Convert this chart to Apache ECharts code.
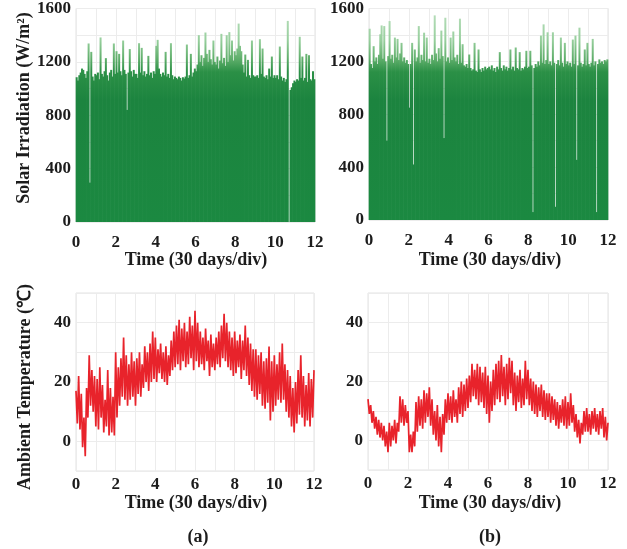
<!DOCTYPE html>
<html>
<head>
<meta charset="utf-8">
<script src="https://cdn.jsdelivr.net/npm/echarts@6/dist/echarts.min.js"></script>
<style>
  html, body { margin: 0; padding: 0; background: #fff; }
  #chart { width: 627px; height: 549px; }
</style>
</head>
<body>
<div id="chart"></div>
<script>
// x axis is in "divisions" of 30 days; one value every 2 days
const DAYS_PER_DIV = 30
const STEP_DAYS = 2

// daily peak solar irradiation (W/m2), one bar per 2 days, 15 per division
const solarA = [
  1085, 1060, 1100, 1120, 1150, 1140, 1110, 1080, 1130, 1338, 295, 1275, 1090, 1060, 1110,
  1100, 1120, 1070, 1383, 1110, 1090, 1130, 1228, 1100, 1060, 1120, 1140, 1090, 1338, 1110,
  1280, 1120, 1260, 1130, 1100, 1360, 1140, 1110, 840, 1120, 1296, 1130, 1090, 1140, 1110,
  1110, 1080, 1340, 1120, 1305, 1100, 1130, 1090, 1110, 1245, 1100, 1120, 1080, 1130, 1110,
  1320, 1365, 1150, 1110, 1090, 1120, 1100, 1275, 1090, 1110, 1080, 1340, 1100, 1070, 1090,
  1080, 1070, 1090, 1080, 1060, 1085, 1075, 1090, 1330, 1080, 1100, 1260, 1090, 1120, 1150,
  1130, 1180, 1400, 1200, 1250, 1170, 1230, 1420, 1260, 1200, 1290, 1220, 1180, 1360, 1200,
  1180, 1240, 1150, 1210, 1410, 1190, 1230, 1170, 1400, 1200, 1423, 1250, 1360, 1210, 1280,
  1250, 1300, 1487, 1320, 1280, 1180, 1120, 1255, 1090, 1215, 1100, 1080, 1360, 1100, 1090,
  1090, 1100, 1080, 1370, 1110, 1300, 1090, 1080, 1100, 1070, 1150, 1090, 1240, 1080, 1100,
  1080, 1100, 1070, 1315, 1090, 1060, 1080, 1050, 1070, 1507, 0, 990, 1010, 1040, 1060,
  1050, 1070, 1060, 1388, 1080, 1240, 1060, 1080, 1260, 1050, 1250, 1070, 1060, 1130, 1070
]

const solarB = [
  1447, 1180, 1150, 1315, 1200, 1230, 1180, 1250, 1405, 1472, 1220, 1467, 1200, 600, 1240,
  1505, 1220, 1250, 1190, 1380, 1230, 1370, 1210, 1260, 1340, 1200, 1230, 1190, 1210, 1180,
  850, 1180, 1340, 420, 1290, 1200, 1230, 1467, 1190, 1250, 1210, 1417, 1200, 1380, 1190,
  1220, 1180, 1250, 1210, 1548, 1260, 1200, 1300, 1220, 1433, 1240, 620, 1530, 1200, 1230,
  1190, 1380, 1210, 1426, 1230, 1200, 1250, 1180, 1523, 1190, 1330, 1170, 1160, 1180, 1150,
  1252, 1150, 1130, 1140, 1340, 1130, 1120, 1290, 1140, 1120, 1150, 1130, 1160, 1140, 1150,
  1160, 1140, 1170, 1130, 1150, 1120, 1160, 1140, 1270, 1150, 1130, 1170, 1140, 1160, 1130,
  1150, 1290, 1140, 1160, 1130, 1305, 1150, 1140, 1270, 1130, 1150, 1140, 1160, 1280, 1150,
  1160, 1280, 1170, 60, 1150, 1180, 1160, 1200, 1170, 1395, 1190, 1480, 1180, 1210, 1420,
  1180, 1200, 1170, 1420, 1190, 100, 1180, 1210, 1170, 1380, 1190, 1160, 1340, 1180, 1200,
  1170, 1190, 1160, 1365, 1180, 1395, 455, 1170, 1455, 1190, 1160, 1180, 1290, 1170, 1340,
  1180, 1160, 1190, 1370, 1170, 1200, 60, 1180, 1215, 1190, 1200, 1180, 1210, 1200, 1215
]

// ambient temperature (C), alternating day highs / night lows every 2 days
const tempA = [
  17, 6, 22, 4, 16, -2, 8, -5, 18, 8, 29, 12, 24, 10, 22,
  5, 21, 4, 25, 8, 19, 3, 14, 5, 24, 2, 18, 3, 15, 2,
  30, 8, 25, 12, 28, 15, 35, 14, 29, 12, 26, 14, 30, 15, 27,
  12, 28, 16, 30, 15, 26, 18, 32, 20, 30, 17, 33, 20, 37, 21,
  35, 20, 31, 23, 33, 21, 30, 20, 32, 19, 29, 22, 34, 24, 37,
  25, 39, 26, 41, 24, 38, 27, 40, 25, 37, 26, 42, 28, 39, 24,
  44, 27, 40, 25, 37, 26, 35, 24, 38, 27, 34, 22, 36, 25, 33,
  24, 35, 26, 37, 25, 39, 28, 43, 27, 40, 25, 37, 24, 35, 22,
  37, 23, 34, 25, 36, 21, 34, 24, 39, 22, 35, 19, 33, 17, 31,
  15, 31, 14, 29, 16, 30, 12, 27, 11, 28, 13, 32, 7, 27, 10,
  29, 12, 26, 14, 30, 13, 33, 14, 26, 10, 24, 8, 22, 5, 18,
  3, 20, 6, 24, 9, 29, 8, 22, 5, 19, 7, 23, 5, 21, 8,
  24
]

const tempB = [
  14, 9, 12, 6, 10, 4, 8, 2, 7, 1, 6, 0, 5, -2, 3,
  -4, 6, -2, 5, 0, 7, -1, 6, 3, 15, 6, 14, 5, 12, 6,
  10, -4, 2, -4, 3, -2, 13, 3, 15, 5, 14, 4, 17, 6, 16,
  8, 18, 5, 14, 2, 10, 0, 12, -2, 8, -4, 9, 2, 14, 6,
  16, 7, 15, 6, 17, 8, 14, 6, 18, 9, 20, 8, 19, 10, 21,
  11, 22, 13, 26, 15, 24, 14, 26, 12, 25, 13, 23, 11, 25, 9,
  22, 6, 20, 10, 24, 12, 26, 14, 27, 13, 29, 15, 25, 12, 26,
  14, 28, 16, 27, 12, 23, 10, 22, 13, 24, 11, 21, 12, 27, 14,
  24, 12, 21, 10, 20, 9, 19, 8, 18, 10, 19, 8, 17, 7, 16,
  8, 16, 6, 15, 7, 14, 5, 13, 4, 12, 6, 14, 5, 15, 4,
  13, 5, 16, 6, 12, 3, 9, 1, 7, -1, 6, 2, 10, 3, 11,
  3, 9, 2, 10, 4, 11, 3, 9, 2, 10, 4, 11, 1, 8, 0,
  6
]

const xTickLabels = ['0', '2', '4', '6', '8', '10', '12']
const solarTickLabels = ['0', '400', '800', '1200', '1600']
const tempTickLabels = ['0', '20', '40']

const FONT = 'Liberation Serif'
const TEXT = '#1c1c1c'

function barPoints (values) {
  return values.map((v, i) => [(i * STEP_DAYS + STEP_DAYS / 2) / DAYS_PER_DIV, v])
}
function linePoints (values) {
  return values.map((v, i) => [(i * STEP_DAYS) / DAYS_PER_DIV, v])
}

const grids = [
  { left: 76, top: 8, width: 239, height: 214 },
  { left: 369, top: 8, width: 239, height: 212 },
  { left: 76, top: 293, width: 238, height: 178 },
  { left: 368, top: 293, width: 240, height: 177 }
]

function xAxis (gridIndex, margin) {
  return {
    type: 'value',
    gridIndex,
    min: 0,
    max: 12,
    interval: 1,
    axisLine: { show: false },
    axisTick: { show: false },
    splitLine: { show: true, lineStyle: { color: '#ececec', width: 1 } },
    axisLabel: {
      margin,
      fontFamily: FONT,
      fontWeight: 'bold',
      fontSize: 17,
      color: TEXT,
      formatter: v => xTickLabels.includes(String(v)) ? String(v) : ''
    }
  }
}

function yAxis (gridIndex, min, max, interval, labels) {
  return {
    type: 'value',
    gridIndex,
    min,
    max,
    interval,
    axisLine: { show: false },
    axisTick: { show: false },
    splitLine: { show: true, lineStyle: { color: '#ececec', width: 1 } },
    axisLabel: {
      margin: 5,
      fontFamily: FONT,
      fontWeight: 'bold',
      fontSize: 17,
      color: TEXT,
      formatter: v => labels.includes(String(v)) ? String(v) : ''
    }
  }
}

function solarColor (top, bottom) {
  const h = bottom - top
  const at = y => (y - top) / h
  return {
    type: 'linear',
    x: 0,
    y: top,
    x2: 0,
    y2: bottom,
    global: true,
    colorStops: [
      { offset: 0, color: '#bde0c0' },
      { offset: at(40), color: '#97cf9d' },
      { offset: at(58), color: '#62b06d' },
      { offset: at(72), color: '#2b9046' },
      { offset: at(100), color: '#1c843f' },
      { offset: 1, color: '#1b8941' }
    ]
  }
}

function solarSeries (idx, values, top, bottom) {
  return {
    type: 'bar',
    xAxisIndex: idx,
    yAxisIndex: idx,
    data: barPoints(values),
    barWidth: 2,
    itemStyle: { color: solarColor(top, bottom) },
    silent: true
  }
}

function tempSeries (idx, values) {
  return {
    type: 'line',
    xAxisIndex: idx,
    yAxisIndex: idx,
    data: linePoints(values),
    showSymbol: false,
    lineStyle: { color: '#e8232b', width: 1.7 },
    silent: true
  }
}

function label (text, x, y, rotate) {
  return {
    type: 'text',
    x,
    y,
    rotation: rotate ? Math.PI / 2 : 0,
    style: {
      text,
      fill: TEXT,
      font: 'bold 18px "Liberation Serif"',
      textAlign: 'center',
      textVerticalAlign: 'middle'
    }
  }
}

const chart = echarts.init(document.getElementById('chart'))
chart.setOption({
  animation: false,
  backgroundColor: '#fff',
  grid: grids.map(g => ({ ...g, show: true, borderColor: '#e2e2e2', borderWidth: 1 })),
  xAxis: [xAxis(0, 12), xAxis(1, 12), xAxis(2, 5), xAxis(3, 5)],
  yAxis: [
    yAxis(0, 0, 1600, 200, solarTickLabels),
    yAxis(1, 0, 1600, 200, solarTickLabels),
    yAxis(2, -10, 50, 10, tempTickLabels),
    yAxis(3, -10, 50, 10, tempTickLabels)
  ],
  series: [
    solarSeries(0, solarA, 8, 222),
    solarSeries(1, solarB, 8, 220),
    tempSeries(2, tempA),
    tempSeries(3, tempB)
  ],
  graphic: [
    label('Solar Irradiation (W/m²)', 24, 108, true),
    label('Ambient Temperature (℃)', 25, 387, true),
    label('Time (30 days/div)', 196, 260),
    label('Time (30 days/div)', 490, 260),
    label('Time (30 days/div)', 196, 503),
    label('Time (30 days/div)', 490, 503),
    label('(a)', 198, 537),
    label('(b)', 490, 537)
  ]
})
</script>
</body>
</html>
